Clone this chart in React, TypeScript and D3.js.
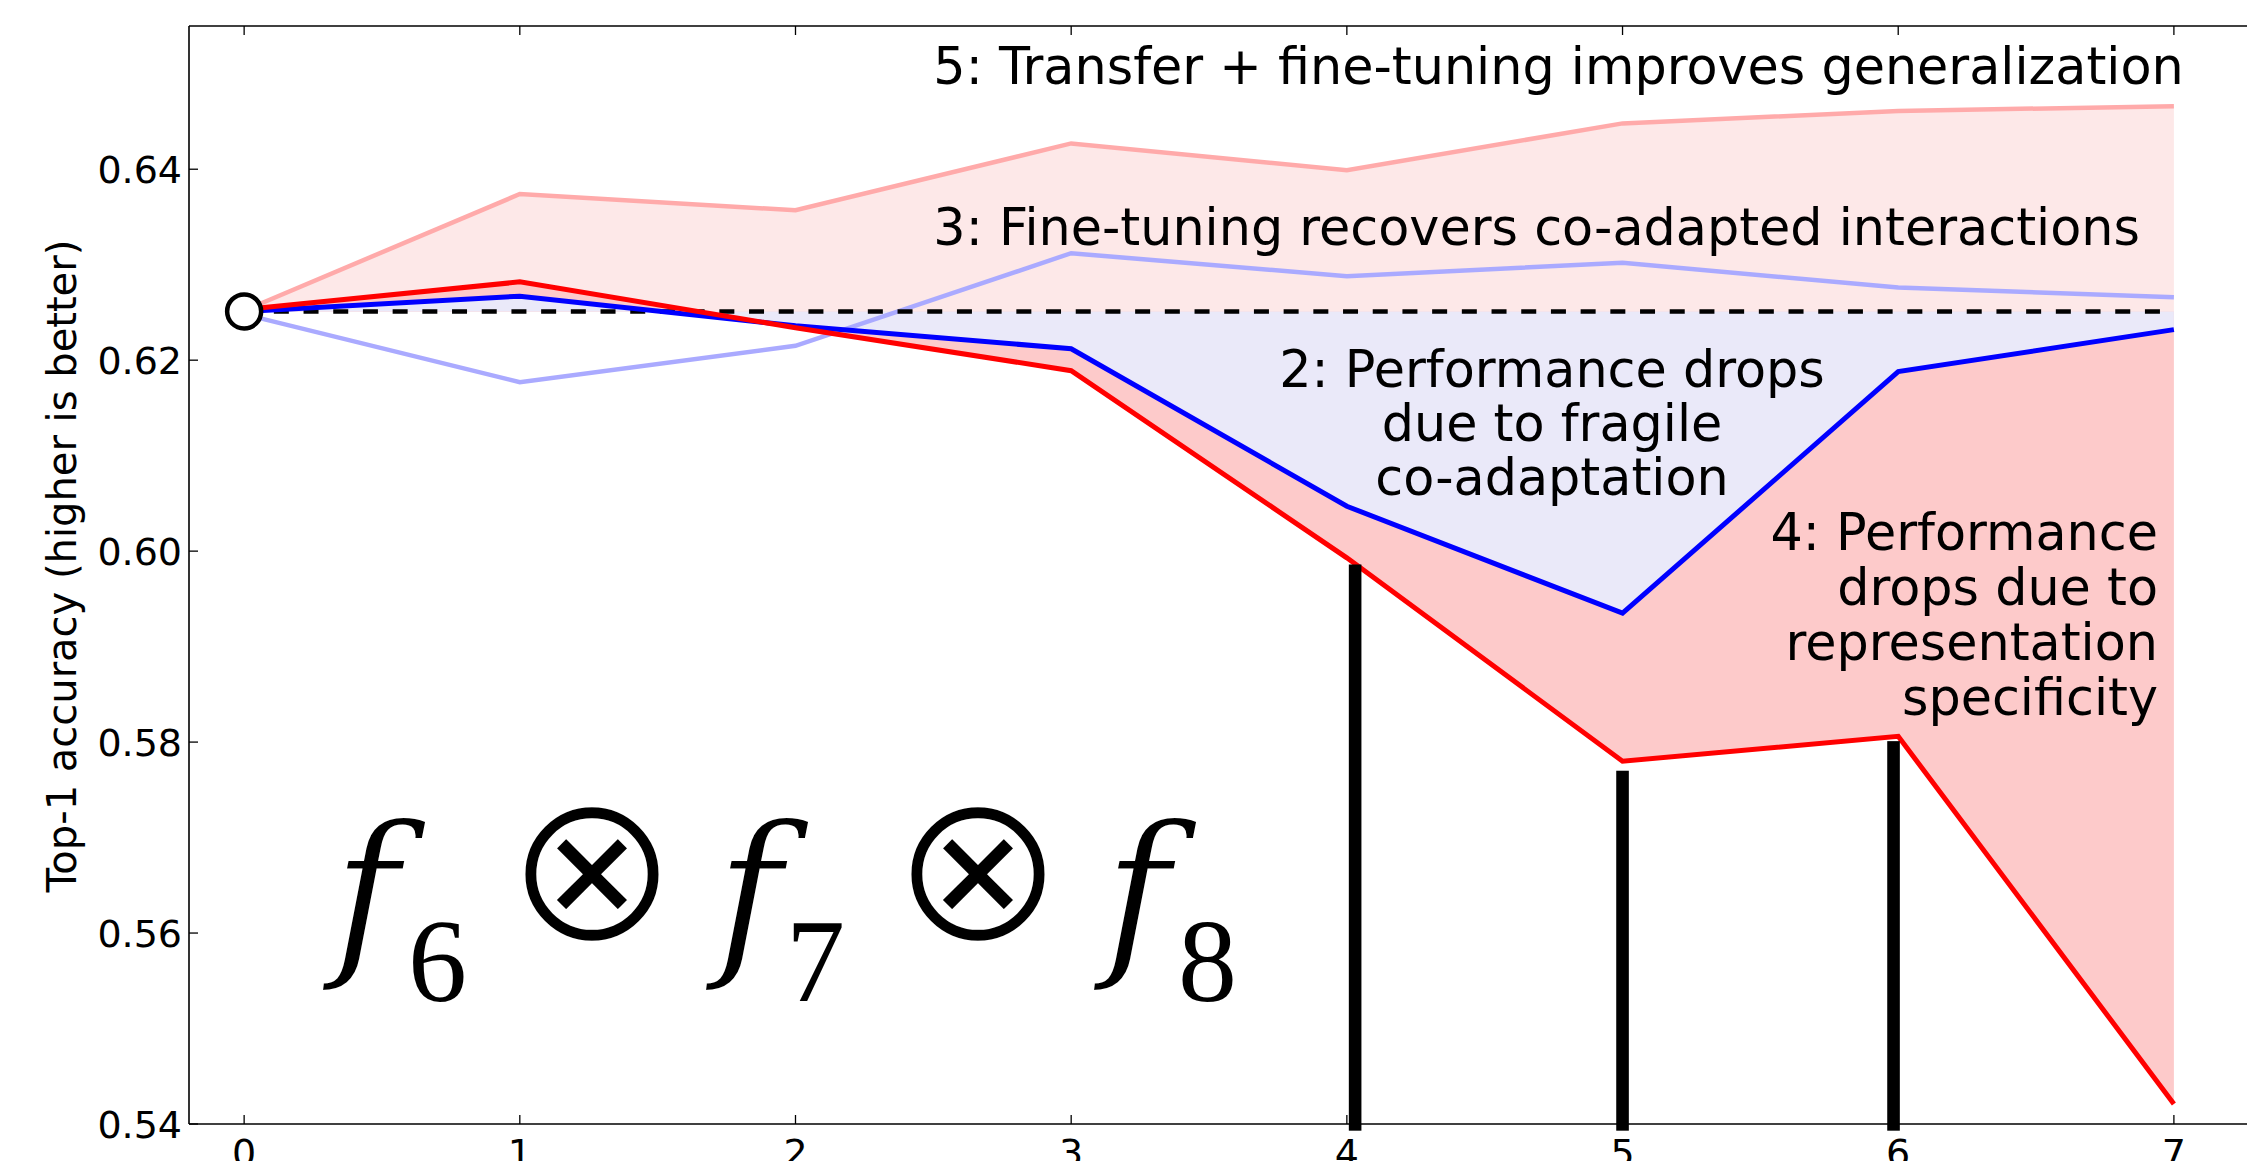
import React from "react";
import * as d3 from "d3";

const xVals = [0, 1, 2, 3, 4, 5, 6, 7];
const baselineValue = 0.6251;
const anbPlus = [0.6252, 0.6374, 0.6357, 0.6427, 0.6399, 0.6448, 0.6461, 0.6466];
const bnbPlus = [0.6248, 0.6177, 0.6215, 0.6312, 0.6288, 0.6302, 0.6276, 0.6266];
const bnb = [0.6251, 0.6267, 0.6236, 0.6212, 0.6047, 0.5935, 0.6188, 0.6232];
const anb = [0.6253, 0.6282, 0.6234, 0.6189, 0.5993, 0.578, 0.5806, 0.5421];
const barX = [4.03, 5.0, 5.983];
const barTop = [0.5986, 0.577, 0.5801];
const barBottom = 0.5393;
const yTicks = [0.54, 0.56, 0.58, 0.6, 0.62, 0.64];
const xTicks = [0, 1, 2, 3, 4, 5, 6, 7];

const W = 2247;
const H = 1161;

const x = d3.scaleLinear().domain([-0.2, 7.3]).range([189, 2256.6]);
const y = d3.scaleLinear().domain([0.54, 0.655]).range([1124, 26]);

const FONT = "DejaVu Sans";

function areaTo(vals: number[]) {
  return d3
    .area<number>()
    .x((_, i) => x(xVals[i]))
    .y0(() => y(baselineValue))
    .y1((d) => y(d))(vals) as string;
}
function lineOf(vals: number[]) {
  return d3
    .line<number>()
    .x((_, i) => x(xVals[i]))
    .y((d) => y(d))(vals) as string;
}

export default function App() {
  const x0 = x.range()[0];
  const x1 = x.range()[1];
  const yTop = y.range()[1];
  const yBot = y.range()[0];
  const fStyle = { fontFamily: "DejaVu Serif", fontStyle: "italic" as const };
  return (
    <svg
      width={W}
      height={H}
      style={{ position: "absolute", left: 0, top: 0, background: "#fff" }}
      fontFamily={FONT}
    >
      <rect x={0} y={0} width={W} height={H} fill="#fff" />
      {/* fills */}
      <path d={areaTo(anbPlus)} fill="#fde8e8" />
      <path d={areaTo(anb)} fill="#fdcaca" />
      <path d={areaTo(bnb)} fill="#eae9f9" />
      {/* lines */}
      <path d={lineOf(anbPlus)} fill="none" stroke="#ffaaaa" strokeWidth={4.5} />
      <path d={lineOf(bnbPlus)} fill="none" stroke="#aaaaff" strokeWidth={4.5} />
      <line
        x1={x(0)}
        x2={x(7)}
        y1={y(baselineValue)}
        y2={y(baselineValue)}
        stroke="#000"
        strokeWidth={4.5}
        strokeDasharray="15 14.7"
      />
      <path d={lineOf(bnb)} fill="none" stroke="#0000ff" strokeWidth={5} />
      <path d={lineOf(anb)} fill="none" stroke="#ff0000" strokeWidth={5} />
      <circle cx={x(0)} cy={y(baselineValue)} r={17} fill="#fff" stroke="#000" strokeWidth={4.5} />
      {/* bars */}
      {barX.map((bx, i) => (
        <rect
          key={i}
          x={x(bx) - 6.3}
          width={12.6}
          y={y(barTop[i])}
          height={y(barBottom) - y(barTop[i])}
          fill="#000"
        />
      ))}
      {/* spines */}
      <line x1={x0} x2={x0} y1={yTop} y2={yBot} stroke="#000" strokeWidth={1.6} />
      <line x1={x0} x2={x1} y1={yTop} y2={yTop} stroke="#000" strokeWidth={1.6} />
      <line x1={x0} x2={x1} y1={yBot} y2={yBot} stroke="#000" strokeWidth={1.6} />
      <line x1={x1} x2={x1} y1={yTop} y2={yBot} stroke="#000" strokeWidth={1.6} />
      {/* y ticks */}
      {yTicks.map((t) => (
        <g key={t}>
          <line x1={x0} x2={x0 + 9} y1={y(t)} y2={y(t)} stroke="#000" strokeWidth={1.3} />
          <line x1={x1} x2={x1 - 9} y1={y(t)} y2={y(t)} stroke="#000" strokeWidth={1.3} />
          <text x={x0 - 7} y={y(t) + 14} textAnchor="end" fontSize={38}>
            {d3.format(".2f")(t)}
          </text>
        </g>
      ))}
      {/* x ticks */}
      {xTicks.map((t) => (
        <g key={t}>
          <line x1={x(t)} x2={x(t)} y1={yBot} y2={yBot - 9} stroke="#000" strokeWidth={1.3} />
          <line x1={x(t)} x2={x(t)} y1={yTop} y2={yTop + 9} stroke="#000" strokeWidth={1.3} />
          <text x={x(t)} y={yBot + 42} textAnchor="middle" fontSize={38}>
            {t}
          </text>
        </g>
      ))}
      {/* y label */}
      <text transform={`translate(76,566) rotate(-90)`} textAnchor="middle" fontSize={40}>
        Top-1 accuracy (higher is better)
      </text>
      {/* annotations */}
      <text x={x(2.5)} y={84} fontSize={50.8}>
        5: Transfer + fine-tuning improves generalization
      </text>
      <text x={x(2.5)} y={245} fontSize={50.8}>
        3: Fine-tuning recovers co-adapted interactions
      </text>
      <text textAnchor="middle" fontSize={50.8}>
        <tspan x={1552} y={387}>2: Performance drops</tspan>
        <tspan x={1552} y={441}>due to fragile</tspan>
        <tspan x={1552} y={495}>co-adaptation</tspan>
      </text>
      <text textAnchor="end" fontSize={50.8}>
        <tspan x={2158} y={550}>4: Performance</tspan>
        <tspan x={2158} y={605}>drops due to</tspan>
        <tspan x={2158} y={660}>representation</tspan>
        <tspan x={2158} y={715}>specificity</tspan>
      </text>
      {/* math expression */}
      <g fontFamily="Liberation Serif">
        <text x={333} y={954} fontSize={180} style={fStyle} stroke="#fff" strokeWidth={2}>f</text>
        <text x={408} y={1001} fontSize={118}>6</text>
        <text x={592} y={940} fontSize={210} textAnchor="middle" fontFamily="DejaVu Sans" stroke="#fff" strokeWidth={4.5}>⊗</text>
        <text x={716} y={954} fontSize={180} style={fStyle} stroke="#fff" strokeWidth={2}>f</text>
        <text x={786} y={1001} fontSize={118}>7</text>
        <text x={978} y={940} fontSize={210} textAnchor="middle" fontFamily="DejaVu Sans" stroke="#fff" strokeWidth={4.5}>⊗</text>
        <text x={1104} y={954} fontSize={180} style={fStyle} stroke="#fff" strokeWidth={2}>f</text>
        <text x={1178} y={1001} fontSize={118}>8</text>
      </g>
    </svg>
  );
}
